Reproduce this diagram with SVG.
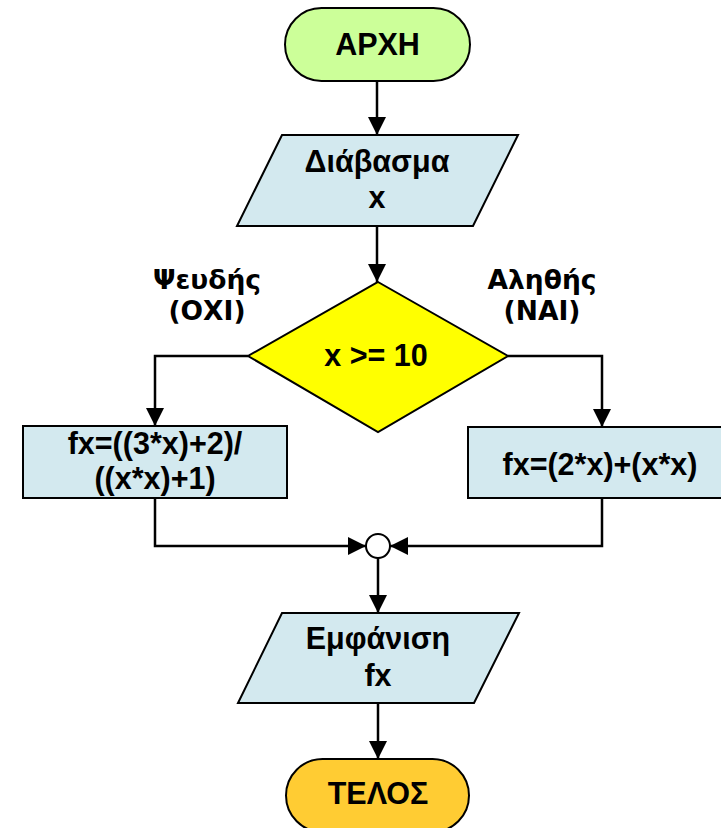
<svg xmlns="http://www.w3.org/2000/svg" width="721" height="828" viewBox="0 0 721 828">
<defs>
<marker id="arr" markerUnits="userSpaceOnUse" markerWidth="18" markerHeight="18" refX="18" refY="9" orient="auto">
<path d="M0,0 L18,9 L0,18 z" fill="#000"/>
</marker>
</defs>
<style>
.shape{stroke:#000;stroke-width:2}
.t{font-family:"Liberation Sans",Arial,sans-serif;font-weight:bold;font-size:30.5px;text-anchor:middle;fill:#000}
.lbl{font-family:"DejaVu Sans",Verdana,sans-serif;font-weight:bold;font-size:26.5px;text-anchor:middle;fill:#000}
.c{fill:none;stroke:#000;stroke-width:2.5;marker-end:url(#arr)}
</style>
<rect width="721" height="828" fill="#fff"/>
<g id="connectors">
<path class="c" d="M377,81 V135"/>
<path class="c" d="M377,226 V282"/>
<path class="c" d="M248,356 H155 V426"/>
<path class="c" d="M508,356 H602 V427"/>
<path class="c" d="M155,498 V546 H366"/>
<path class="c" d="M602,498 V546 H390"/>
<path class="c" d="M378,558 V613"/>
<path class="c" d="M378,703 V759"/>
</g>
<g id="start">
<rect class="shape" x="285" y="8" width="185" height="73" rx="36.5" fill="#ccff99"/>
<text class="t" x="377.5" y="55">ΑΡΧΗ</text>
</g>
<g id="read">
<polygon class="shape" points="282,135 518,135 473,226 237,226" fill="#d3e9ef"/>
<text class="t" x="377" y="172">Διάβασμα</text>
<text class="t" x="377" y="208">x</text>
</g>
<g id="decision">
<polygon class="shape" points="378,282 508,356 378,432 248,356" fill="#ffff00"/>
<text class="t" x="376" y="366">x &gt;= 10</text>
</g>
<g id="label-false">
<text class="lbl" x="207" y="289">Ψευδής</text>
<text class="lbl" x="207" y="320">(ΟΧΙ)</text>
</g>
<g id="label-true">
<text class="lbl" x="542" y="289">Αληθής</text>
<text class="lbl" x="542" y="320">(ΝΑΙ)</text>
</g>
<g id="calc-false">
<rect class="shape" x="23" y="426" width="264" height="72" fill="#d3e9ef"/>
<text class="t" x="155" y="454">fx=((3*x)+2)/</text>
<text class="t" x="155" y="489">((x*x)+1)</text>
</g>
<g id="calc-true">
<rect class="shape" x="468" y="427" width="270" height="71" fill="#d3e9ef"/>
<text class="t" x="600" y="475">fx=(2*x)+(x*x)</text>
</g>
<g id="join">
<circle class="shape" cx="378" cy="546" r="12" fill="#fff"/>
</g>
<g id="output">
<polygon class="shape" points="282,613 519,613 474,703 238,703" fill="#d3e9ef"/>
<text class="t" x="378" y="649">Εμφάνιση</text>
<text class="t" x="378" y="686">fx</text>
</g>
<g id="end">
<rect class="shape" x="286" y="759" width="183" height="73" rx="36.5" fill="#ffcc33"/>
<text class="t" x="378" y="804">ΤΕΛΟΣ</text>
</g>
</svg>
